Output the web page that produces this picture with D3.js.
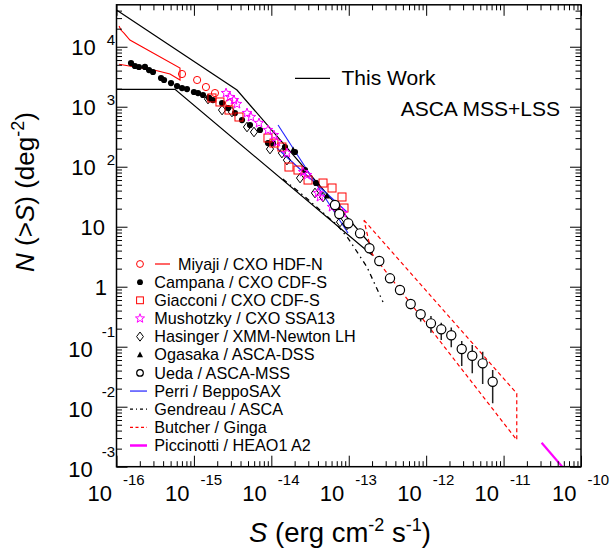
<!DOCTYPE html>
<html>
<head>
<meta charset="utf-8">
<script src="https://cdn.jsdelivr.net/npm/d3@7"></script>
<style>
  body { margin: 0; background: #fff; }
  text { font-family: "Liberation Sans", Arial, Helvetica, sans-serif; fill: #000; }
</style>
</head>
<body>
<svg id="chart" width="611" height="552"></svg>
<script>
// ---- Source counts N(>S) [deg^-2] versus flux S [erg cm^-2 s^-1] ----

// This Work: allowed region (ASCA MSS+LSS fluctuation analysis)
const thisWorkS = [1e-16, 3.60e-15, 2.0e-13, 2.0e-13, 5.70e-16, 1e-16];
const thisWorkN = [41000, 1900, 4.77, 3.37, 1950, 1950];

// Miyaji / CXO HDF-N: points and fluctuation band
const miyajiS = [7.02e-16, 1.10e-15, 1.43e-15, 1.87e-15, 2.84e-15];
const miyajiN = [3510, 2790, 2130, 1690, 1150];
const miyajiBandS = [1.08e-16, 1.14e-16, 1.25e-16, 1.49e-16, 6.61e-16, 6.61e-16, 4.91e-16, 3.34e-16, 1.08e-16];
const miyajiBandN = [22100, 18970, 16900, 12930, 4420, 2790, 3510, 3980, 5090];

// Campana / CXO CDF-S
const campanaS = [1.54e-16, 1.73e-16, 1.95e-16, 2.33e-16, 2.63e-16, 2.96e-16, 3.76e-16, 4.11e-16, 5.06e-16, 6.05e-16,
                  7.02e-16, 8.14e-16, 1.00e-15, 1.13e-15, 1.31e-15, 1.57e-15, 1.76e-15, 2.31e-15, 2.76e-15, 3.39e-15,
                  4.18e-15, 5.30e-15, 7.14e-15, 9.05e-15, 1.05e-14, 1.50e-14, 2.02e-14, 2.72e-14, 3.78e-14, 7.05e-14];
const campanaN = [5350, 4770, 4590, 4600, 4090, 3790, 3010, 2790, 2480, 2210,
                  2050, 1970, 1760, 1690, 1570, 1400, 1290, 1150, 951, 785,
                  600, 495, 409, 248, 245, 213, 176, 88, 53.5, 21.3];

// Giacconi / CXO CDF-S
const giacconiS = [1.71e-15, 2.17e-15, 2.84e-15, 3.82e-15, 9.05e-15, 1.08e-14, 1.37e-14, 1.69e-14, 2.21e-14, 2.98e-14,
                   4.65e-14, 6.08e-14, 8.18e-14, 8.68e-14];
const giacconiN = [1400, 1200, 881, 674, 301, 248, 213, 98.9, 88.1, 60, 53.5, 44.2, 31.3, 20.5];

// Mushotzky / CXO SSA13
const mushotzkyS = [2.60e-15, 2.92e-15, 3.29e-15, 3.60e-15, 4.85e-15, 5.46e-15, 6.93e-15, 9.05e-15, 1.08e-14, 1.18e-14,
                    1.59e-14, 2.57e-14, 2.89e-14, 4.00e-14, 4.25e-14, 6.08e-14, 8.42e-14];
const mushotzkyN = [1690, 1450, 1290, 1110, 785, 674, 535, 409, 337, 258, 169, 81.6, 72.7, 36.5, 31.3, 21.3, 16.9];

// Hasinger / XMM-Newton Lockman Hole
const hasingerS = [1.52e-15, 2.31e-15, 3.10e-15, 4.85e-15, 5.97e-15, 9.61e-15, 1.37e-14, 1.59e-14, 2.35e-14, 3.66e-14,
                   4.65e-14, 6.64e-14, 7.71e-14, 9.49e-14];
const hasingerN = [1343, 881, 816, 459, 379, 197, 169, 129, 64.8, 36.5, 31.3, 21.3, 12.0, 10.7];

// Ogasaka / ASCA-DSS
const ogasakaS = [1.91e-14, 3.89e-14, 5.23e-14, 6.84e-14];
const ogasakaN = [190, 53.5, 32.5, 22.1];

// Ueda / ASCA-MSS with 1-sigma ranges
const uedaS = [6.64e-14, 7.55e-14, 9.86e-14, 1.40e-13, 1.85e-13, 2.48e-13, 3.41e-13, 4.59e-13, 6.31e-13,
               8.49e-13, 1.153e-12, 1.567e-12, 2.11e-12, 2.88e-12, 3.94e-12, 5.37e-12, 7.23e-12];
const uedaN = [23.0, 16.3, 11.4, 7.76, 4.37, 2.68, 1.38, 0.881, 0.515,
               0.347, 0.245, 0.195, 0.155, 0.0916, 0.0708, 0.0528, 0.0261];
const uedaNlo = [21.5, 15.0, 10.4, 7.0, 3.9, 2.4, 1.22, 0.78, 0.42,
                 0.262, 0.171, 0.129, 0.0977, 0.0476, 0.036, 0.0239, 0.0114];
const uedaNhi = [24.5, 17.6, 12.4, 8.5, 4.85, 3.0, 1.56, 1.0, 0.617,
                 0.42, 0.325, 0.251, 0.21, 0.124, 0.107, 0.0826, 0.0409];

// Perri / BeppoSAX: bow-tie boundaries
const perriAS = [1.22e-14, 9.77e-14];
const perriAN = [495, 7.85];
const perriBS = [1.18e-14, 9.48e-14];
const perriBN = [205, 17.6];

// Gendreau / ASCA
const gendreauS = [1.41e-14, 2.56e-14, 7.05e-14, 9.77e-14, 1.72e-13, 2.77e-13];
const gendreauN = [62.4, 33.7, 10.7, 6.48, 2.13, 0.556];

// Butcher / Ginga: fluctuation allowed region
const butcherS = [1.57e-13, 1.48e-11, 1.48e-11, 1.98e-13, 1.57e-13];
const butcherN = [12.9, 0.0167, 0.00279, 3.6, 12.9];

// Piccinotti / HEAO1 A2
const piccinottiS = [3.1e-11, 6.0e-11];
const piccinottiN = [0.00251, 0.00093];

// Axis decades
const xDecades = [-16, -15, -14, -13, -12, -11, -10];
const yDecades = [-3, -2, -1, 0, 1, 2, 3, 4];

const legendItems = [
  { label: "Miyaji / CXO HDF-N", kind: "circle+line", color: "#ff0000" },
  { label: "Campana / CXO CDF-S", kind: "dot", color: "#000" },
  { label: "Giacconi / CXO CDF-S", kind: "square", color: "#ff0000" },
  { label: "Mushotzky / CXO SSA13", kind: "star", color: "#ff00ff" },
  { label: "Hasinger / XMM-Newton LH", kind: "diamond", color: "#000" },
  { label: "Ogasaka / ASCA-DSS", kind: "triangle", color: "#000" },
  { label: "Ueda / ASCA-MSS", kind: "ocircle", color: "#000" },
  { label: "Perri / BeppoSAX", kind: "line", color: "#1f1fff" },
  { label: "Gendreau / ASCA", kind: "dashdot", color: "#000" },
  { label: "Butcher / Ginga", kind: "dashed", color: "#ff0000" },
  { label: "Piccinotti / HEAO1 A2", kind: "thick", color: "#ff00ff" }
];

// ---- Layout ----
const svg = d3.select("#chart");
svg.append("rect").attr("width", 611).attr("height", 552).attr("fill", "#fff");

const L = 116.5, R = 581, T = 4.8, B = 466.7;
const x = d3.scaleLog().domain([1e-16, 1e-10]).range([L, R]);
const y = d3.scaleLog().domain([1e-3, 5e4]).range([B, T]);

svg.append("defs").append("clipPath").attr("id", "plotclip")
  .append("rect").attr("x", L).attr("y", T).attr("width", R - L).attr("height", B - T);

const plot = svg.append("g").attr("clip-path", "url(#plotclip)");

const zip = (a, b) => a.map((v, i) => [v, b[i]]);
const line = d3.line().x(d => x(d[0])).y(d => y(d[1]));

// ---- Ticks (inward, all four sides) ----
const majorX = xDecades.map(e => Math.pow(10, e));
const minorX = [];
xDecades.slice(0, -1).forEach(e => { for (let m = 2; m <= 9; m++) minorX.push(m * Math.pow(10, e)); });
const majorY = yDecades.map(e => Math.pow(10, e));
const minorY = [];
yDecades.forEach(e => { for (let m = 2; m <= 9; m++) { const v = m * Math.pow(10, e); if (v < 5e4) minorY.push(v); } });

function tickAxis(axisFn, scale, vals, size, transform) {
  const g = svg.append("g").attr("transform", transform)
    .call(axisFn(scale).tickValues(vals).tickSizeInner(-size).tickSizeOuter(0).tickFormat(""));
  g.select(".domain").remove();
  g.selectAll(".tick line").attr("stroke", "#000").attr("stroke-width", 1);
}
tickAxis(d3.axisBottom, x, majorX, 11, `translate(0,${B})`);
tickAxis(d3.axisBottom, x, minorX, 5.5, `translate(0,${B})`);
tickAxis(d3.axisTop, x, majorX, 11, `translate(0,${T})`);
tickAxis(d3.axisTop, x, minorX, 5.5, `translate(0,${T})`);
tickAxis(d3.axisLeft, y, majorY, 11, `translate(${L},0)`);
tickAxis(d3.axisLeft, y, minorY, 5.5, `translate(${L},0)`);
tickAxis(d3.axisRight, y, majorY, 11, `translate(${R},0)`);
tickAxis(d3.axisRight, y, minorY, 5.5, `translate(${R},0)`);

// ---- Tick labels ----
const baseSize = 22, supSize = 15;
xDecades.forEach(e => {
  const px = x(Math.pow(10, e));
  svg.append("text").attr("x", px - 4.5).attr("y", 501).attr("text-anchor", "end")
    .attr("font-size", baseSize).text("10");
  svg.append("text").attr("x", px + 6.5).attr("y", 485).attr("text-anchor", "start")
    .attr("font-size", supSize).text(String(e));
});
yDecades.forEach(e => {
  const py = y(Math.pow(10, e));
  if (e === 0) {
    svg.append("text").attr("x", 107).attr("y", py + 8).attr("text-anchor", "end")
      .attr("font-size", baseSize).text("1");
  } else if (e === 1) {
    svg.append("text").attr("x", 105).attr("y", py + 8).attr("text-anchor", "end")
      .attr("font-size", baseSize).text("10");
  } else {
    const neg = e < 0;
    const sup = svg.append("text").attr("x", 115).attr("y", neg ? py - 10 : py - 2)
      .attr("text-anchor", "end").attr("font-size", supSize).text(String(e));
    const w = sup.node().getComputedTextLength();
    svg.append("text").attr("x", 115 - w - (neg ? 9 : 11)).attr("y", neg ? py + 10 : py + 8)
      .attr("text-anchor", "end").attr("font-size", baseSize).text("10");
  }
});

// ---- Axis titles ----
const xt = svg.append("text").attr("x", 340).attr("y", 542).attr("text-anchor", "middle").attr("font-size", 27.5);
xt.append("tspan").attr("font-style", "italic").text("S");
xt.append("tspan").text(" (erg cm");
xt.append("tspan").attr("font-size", 18).attr("dy", -11).text("-2");
xt.append("tspan").attr("dy", 11).text(" s");
xt.append("tspan").attr("font-size", 18).attr("dy", -11).text("-1");
xt.append("tspan").attr("dy", 11).text(")");

const yt = svg.append("text").attr("transform", "translate(34,192) rotate(-90)")
  .attr("text-anchor", "middle").attr("font-size", 26);
yt.append("tspan").attr("font-style", "italic").text("N");
yt.append("tspan").text(" (>");
yt.append("tspan").attr("font-style", "italic").text("S");
yt.append("tspan").text(") (deg");
yt.append("tspan").attr("font-size", 18).attr("dy", -10).text("-2");
yt.append("tspan").attr("dy", 10).text(")");

// ---- Curves and regions ----
plot.append("path").datum(zip(thisWorkS, thisWorkN)).attr("d", line)
  .attr("fill", "none").attr("stroke", "#000").attr("stroke-width", 1.2);
plot.append("path").datum(zip(miyajiBandS, miyajiBandN)).attr("d", line)
  .attr("fill", "none").attr("stroke", "#ff0000").attr("stroke-width", 1.1);
plot.append("path").datum(zip(butcherS, butcherN)).attr("d", line)
  .attr("fill", "none").attr("stroke", "#ff0000").attr("stroke-width", 1.2).attr("stroke-dasharray", "4,3");
plot.append("path").datum(zip(gendreauS, gendreauN)).attr("d", line)
  .attr("fill", "none").attr("stroke", "#000").attr("stroke-width", 1.3).attr("stroke-dasharray", "5,4,1.5,4");
plot.append("path").datum(zip(perriAS, perriAN)).attr("d", line)
  .attr("fill", "none").attr("stroke", "#1f1fff").attr("stroke-width", 1.1);
plot.append("path").datum(zip(perriBS, perriBN)).attr("d", line)
  .attr("fill", "none").attr("stroke", "#1f1fff").attr("stroke-width", 1.1);
plot.append("path").datum(zip(piccinottiS, piccinottiN)).attr("d", line)
  .attr("fill", "none").attr("stroke", "#ff00ff").attr("stroke-width", 2.2);

// ---- Markers ----
function starPath(r, ri) {
  const pts = [];
  for (let i = 0; i < 10; i++) {
    const a = -Math.PI / 2 + i * Math.PI / 5;
    const rr = i % 2 ? ri : r;
    pts.push([rr * Math.cos(a), rr * Math.sin(a)]);
  }
  return "M" + pts.map(p => p.join(",")).join("L") + "Z";
}
const shapes = {
  circle: (g, s) => g.append("circle").attr("r", 3.6 * s).attr("fill", "none").attr("stroke", "#ff0000").attr("stroke-width", 1),
  dot: (g, s) => g.append("circle").attr("r", 3.1 * s).attr("fill", "#000"),
  square: (g, s) => g.append("rect").attr("x", -4 * s).attr("y", -4 * s).attr("width", 8 * s).attr("height", 8 * s)
    .attr("fill", "none").attr("stroke", "#ff0000").attr("stroke-width", 1),
  star: (g, s) => g.append("path").attr("d", starPath(5 * s, 2.1 * s)).attr("fill", "none").attr("stroke", "#ff00ff").attr("stroke-width", 1),
  diamond: (g, s) => g.append("path").attr("d", `M0,${-4.8 * s}L${3.6 * s},0L0,${4.8 * s}L${-3.6 * s},0Z`)
    .attr("fill", "none").attr("stroke", "#000").attr("stroke-width", 1),
  triangle: (g, s) => g.append("path").attr("d", `M0,${-3.5 * s}L${3.2 * s},${2.5 * s}L${-3.2 * s},${2.5 * s}Z`).attr("fill", "#000"),
  ocircle: (g, s) => g.append("circle").attr("r", 4.6 * s).attr("fill", "#fff").attr("stroke", "#000").attr("stroke-width", 1.2)
};
function drawPoints(S, N, kind) {
  const g = plot.append("g");
  zip(S, N).forEach(d => {
    const m = g.append("g").attr("transform", `translate(${x(d[0])},${y(d[1])})`);
    shapes[kind](m, 1);
  });
}
drawPoints(campanaS, campanaN, "dot");
drawPoints(miyajiS, miyajiN, "circle");
drawPoints(hasingerS, hasingerN, "diamond");
drawPoints(giacconiS, giacconiN, "square");
drawPoints(mushotzkyS, mushotzkyN, "star");
drawPoints(ogasakaS, ogasakaN, "triangle");

// Ueda error bars, then circles
plot.append("g").selectAll("line").data(uedaS).join("line")
  .attr("x1", d => x(d)).attr("x2", d => x(d))
  .attr("y1", (d, i) => y(uedaNhi[i])).attr("y2", (d, i) => y(uedaNlo[i]))
  .attr("stroke", "#222").attr("stroke-width", 1.5);
drawPoints(uedaS, uedaN, "ocircle");

// ---- Frame ----
svg.append("rect").attr("x", L).attr("y", T).attr("width", R - L).attr("height", B - T)
  .attr("fill", "none").attr("stroke", "#000").attr("stroke-width", 1.5);

// ---- Legends ----
svg.append("line").attr("x1", 295).attr("x2", 330).attr("y1", 78.3).attr("y2", 78.3)
  .attr("stroke", "#000").attr("stroke-width", 1.2);
svg.append("text").attr("x", 341.5).attr("y", 85).attr("font-size", 21).text("This Work");
svg.append("text").attr("x", 560).attr("y", 115.5).attr("text-anchor", "end").attr("font-size", 21).text("ASCA MSS+LSS");

const leg = svg.append("g");
legendItems.forEach((it, i) => {
  const cy = 264 + i * 18.15;
  const g = leg.append("g").attr("transform", `translate(0,${cy})`);
  let tx = 154.3;
  if (it.kind === "circle+line") {
    shapes.circle(g.append("g").attr("transform", "translate(140,0)"), 0.95);
    g.append("line").attr("x1", 155).attr("x2", 170).attr("stroke", it.color).attr("stroke-width", 1.2);
    tx = 178;
  } else if (["dot", "square", "star", "diamond", "triangle", "ocircle"].includes(it.kind)) {
    const sc = it.kind === "ocircle" ? 0.72 : it.kind === "square" ? 0.85 : 0.95;
    shapes[it.kind](g.append("g").attr("transform", "translate(140,0)"), sc);
  } else {
    const ln = g.append("line").attr("x1", 130).attr("x2", 147).attr("stroke", it.color);
    if (it.kind === "line") ln.attr("stroke-width", 1.2);
    if (it.kind === "dashdot") ln.attr("stroke-width", 1.2).attr("stroke-dasharray", "3,3,1,3");
    if (it.kind === "dashed") ln.attr("stroke-width", 1.2).attr("stroke-dasharray", "3,2.5");
    if (it.kind === "thick") ln.attr("stroke-width", 2.5);
  }
  g.append("text").attr("x", tx).attr("y", 5.6).attr("font-size", 16.2).text(it.label);
});
</script>
</body>
</html>
